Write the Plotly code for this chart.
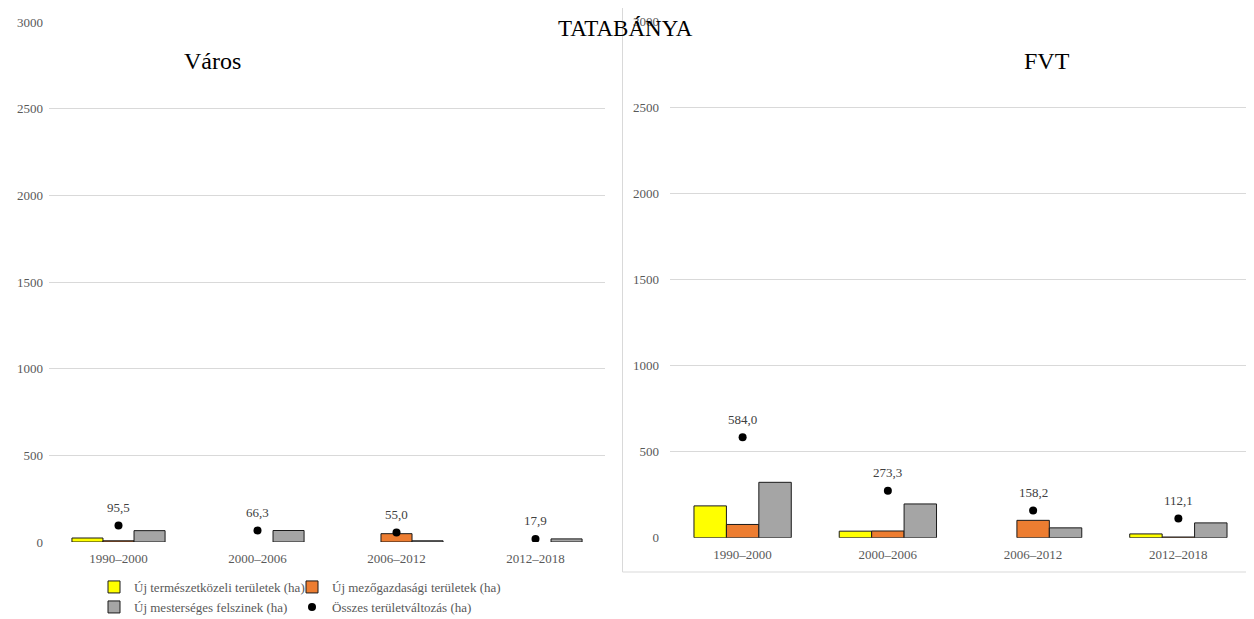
import plotly.graph_objects as go

# ---------------- data ----------------
categories = ["1990–2000", "2000–2006", "2006–2012", "2012–2018"]

varos_termeszetkozeli = [23, None, None, None]
varos_mezogazdasagi = [7, None, 48, None]
varos_mesterseges = [65.5, 66.3, 7, 17.9]
varos_osszes = [95.5, 66.3, 55.0, 17.9]

fvt_termeszetkozeli = [185, 38, None, 22]
fvt_mezogazdasagi = [77, 39, 101, 4]
fvt_mesterseges = [322, 196.3, 57.2, 86.1]
fvt_osszes = [584.0, 273.3, 158.2, 112.1]

series_names = [
    "Új természetközeli területek (ha)",
    "Új mezőgazdasági területek (ha)",
    "Új mesterséges felszinek (ha)",
    "Összes területváltozás (ha)",
]
y_ticks = [0, 500, 1000, 1500, 2000, 2500, 3000]

# ---------------- style ----------------
# the page body keeps its default 8px margin, so the figure is drawn 8px in
OFF = 8
W, H = 1254 - OFF, 619 - OFF
FONT = "Liberation Serif, Times New Roman, serif"
C_YELLOW, C_ORANGE, C_GRAY, C_DOT = "#FFFF00", "#ED7D31", "#A5A5A5", "#000000"
GRID = "#D9D9D9"
TICK = "#595959"
LABEL = "#404040"


def px_x(p):
    return (p - OFF) / W


def px_y(p):
    return (H - (p - OFF)) / H


fig = go.Figure()

legend_ids = ["legend", "legend2", "legend3", "legend4"]


def add_panel(xa, ya, vals, totals, show_legend):
    colors = [C_YELLOW, C_ORANGE, C_GRAY]
    for name, v, c, lg in zip(series_names[:3], vals, colors, legend_ids[:3]):
        fig.add_trace(go.Bar(
            x=categories, y=v, name=name, xaxis=xa, yaxis=ya,
            marker=dict(color=c, line=dict(color="#1a1a1a", width=1)),
            showlegend=show_legend, legend=lg, offsetgroup=name,
        ))
    fig.add_trace(go.Scatter(
        x=categories, y=totals, name=series_names[3], xaxis=xa, yaxis=ya,
        mode="markers", marker=dict(color=C_DOT, size=8),
        showlegend=show_legend, legend=legend_ids[3],
    ))
    for cat, t in zip(categories, totals):
        fig.add_annotation(
            x=cat, y=t, xref=xa, yref=ya, showarrow=False, yshift=18,
            text=f"{t:.1f}".replace(".", ","),
            font=dict(family=FONT, size=13, color=LABEL),
        )


add_panel("x", "y", [varos_termeszetkozeli, varos_mezogazdasagi, varos_mesterseges],
          varos_osszes, True)
add_panel("x2", "y2", [fvt_termeszetkozeli, fvt_mezogazdasagi, fvt_mesterseges],
          fvt_osszes, False)

axis_common_x = dict(
    showgrid=False, zeroline=False, showline=False, ticks="", automargin=False,
    tickfont=dict(family=FONT, size=13, color=TICK),
    categoryorder="array", categoryarray=categories,
    ticklabelstandoff=7,
)
axis_common_y = dict(
    range=[0, 3000], tickvals=y_ticks, showgrid=True, gridcolor=GRID, gridwidth=1,
    zeroline=False, showline=False, ticks="", automargin=False,
    tickfont=dict(family=FONT, size=13, color=TICK),
)

legend_common = dict(
    orientation="h", xanchor="left", yanchor="middle", itemwidth=30,
    font=dict(family=FONT, size=13, color=TICK), bgcolor="rgba(0,0,0,0)",
    itemclick=False, itemdoubleclick=False,
)

fig.update_layout(
    template="none",
    width=W, height=H,
    margin=dict(l=0, r=0, t=0, b=0, autoexpand=False),
    font=dict(family=FONT, color=TICK),
    paper_bgcolor="white", plot_bgcolor="white",
    barmode="group", bargap=0.33, bargroupgap=0,
    xaxis=dict(domain=[px_x(49), px_x(605)], anchor="y", **axis_common_x),
    yaxis=dict(domain=[px_y(542), px_y(22)], anchor="x", ticklabelstandoff=5, **axis_common_y),
    xaxis2=dict(domain=[px_x(670), px_x(1251)], anchor="y2", **axis_common_x),
    yaxis2=dict(domain=[px_y(537.7), px_y(21.7)], anchor="x2", ticklabelstandoff=10, **axis_common_y),
    legend=dict(x=px_x(94), y=px_y(587), **legend_common),
    legend2=dict(x=px_x(292), y=px_y(587), **legend_common),
    legend3=dict(x=px_x(94), y=px_y(607), **legend_common),
    legend4=dict(x=px_x(292), y=px_y(607), **legend_common),
    showlegend=True,
)

# right chart frame
fig.add_shape(type="rect", xref="paper", yref="paper",
              x0=px_x(622.5), x1=px_x(1262), y0=px_y(572), y1=px_y(6),
              line=dict(color=GRID, width=1), fillcolor="rgba(0,0,0,0)", layer="below")

# titles
title_font = dict(family=FONT, color="#000000")
fig.add_annotation(text="TATABÁNYA", xref="paper", yref="paper", x=px_x(625), y=px_y(28),
                   xanchor="center", yanchor="middle", showarrow=False,
                   font=dict(size=23, **title_font))
fig.add_annotation(text="Város", xref="paper", yref="paper", x=px_x(212), y=px_y(61),
                   xanchor="center", yanchor="middle", showarrow=False,
                   font=dict(size=24, **title_font))
fig.add_annotation(text="FVT", xref="paper", yref="paper", x=px_x(1047), y=px_y(61),
                   xanchor="center", yanchor="middle", showarrow=False,
                   font=dict(size=24, **title_font))

fig.write_html("out.html")
